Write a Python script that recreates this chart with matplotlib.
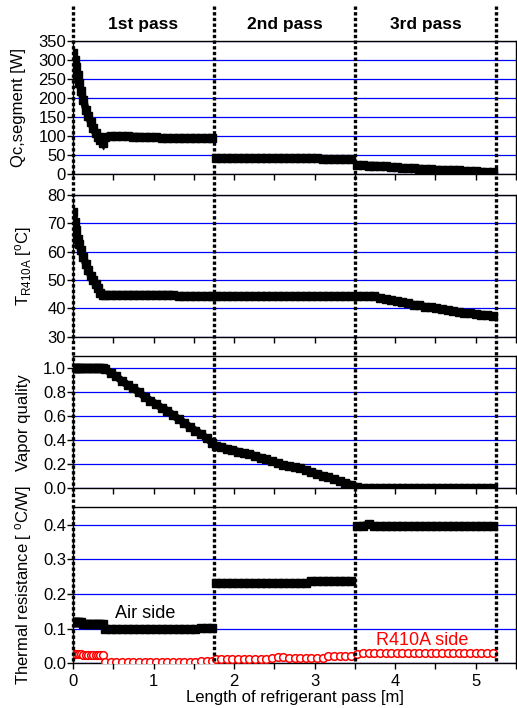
import matplotlib
matplotlib.use('Agg')
import matplotlib.pyplot as plt

plt.rcParams['font.family'] = ['Liberation Sans', 'DejaVu Sans']
plt.rcParams['mathtext.fontset'] = 'custom'
plt.rcParams['mathtext.rm'] = 'Liberation Sans'
plt.rcParams['mathtext.it'] = 'Liberation Sans:italic'
plt.rcParams['mathtext.bf'] = 'Liberation Sans:bold'

# ---------------- data ----------------
pass_names = ['1st pass', '2nd pass', '3rd pass']
pass_bounds = [0.0, 1.75, 3.5, 5.25]

x1 = [0.00, 0.02, 0.04, 0.06, 0.08, 0.10, 0.13, 0.16, 0.19, 0.22, 0.25, 0.28, 0.31, 0.34, 0.37,
      0.40, 0.47, 0.54, 0.61, 0.68, 0.75, 0.82, 0.89, 0.96, 1.03, 1.10, 1.17, 1.24, 1.31, 1.38,
      1.45, 1.52, 1.59, 1.66, 1.73]
x2 = [1.77, 1.84, 1.91, 1.98, 2.05, 2.12, 2.19, 2.26, 2.33, 2.40, 2.47, 2.54, 2.61, 2.68, 2.75,
      2.82, 2.89, 2.96, 3.03, 3.10, 3.17, 3.24, 3.31, 3.38, 3.45]
x3 = [3.53, 3.60, 3.67, 3.74, 3.81, 3.88, 3.95, 4.02, 4.09, 4.16, 4.23, 4.30, 4.37, 4.44, 4.51,
      4.58, 4.65, 4.72, 4.79, 4.86, 4.93, 5.00, 5.07, 5.14, 5.21]

# Qc, segment [W]
qc1 = [318, 300, 282, 262, 240, 220, 195, 170, 152, 137, 121, 108, 98, 90, 82,
       98, 101, 101, 100, 100, 99, 99, 98, 98, 97, 95, 95, 95, 94, 94,
       94, 94, 94, 94, 94]
qc2 = [43, 43, 42, 42, 42, 42, 42, 42, 42, 42, 42, 42, 42, 42, 42,
       42, 42, 42, 42, 41, 40, 40, 40, 40, 40]
qc3 = [24, 24, 23, 23, 22, 21, 19, 18, 17, 16, 16, 15, 14, 13, 12,
       12, 11, 10, 10, 9, 9, 8, 7, 6, 6]

# T R410A [C]
t1 = [74, 70.5, 67.5, 64.5, 62.5, 60.5, 58, 55.5, 53.5, 51.5, 50, 48.5, 47, 45.5, 44.8,
      44.8, 44.8, 44.8, 44.8, 44.8, 44.8, 44.8, 44.8, 44.8, 44.8, 44.8, 44.8, 44.8, 44.4, 44.4,
      44.4, 44.4, 44.4, 44.4, 44.4]
t2 = [44.4, 44.4, 44.4, 44.4, 44.4, 44.4, 44.4, 44.4, 44.4, 44.4, 44.4, 44.4, 44.4, 44.4, 44.4,
      44.4, 44.4, 44.4, 44.4, 44.4, 44.4, 44.4, 44.4, 44.4, 44.4]
t3 = [44.4, 44.4, 44.4, 44.3, 43.7, 43.2, 42.8, 42.5, 42.1, 41.7, 41.3, 41.0, 40.6, 40.3, 40.0,
      39.6, 39.3, 38.9, 38.6, 38.4, 38.2, 38.0, 37.8, 37.6, 37.4]

# Vapor quality
vq1 = [1.0, 1.0, 1.0, 1.0, 1.0, 1.0, 1.0, 1.0, 1.0, 1.0, 1.0, 1.0, 1.0, 1.0, 1.0,
       0.99, 0.96, 0.93, 0.89, 0.86, 0.83, 0.80, 0.76, 0.73, 0.70, 0.67, 0.645, 0.61, 0.575, 0.545,
       0.51, 0.48, 0.45, 0.415, 0.38]
vq2 = [0.355, 0.34, 0.33, 0.32, 0.305, 0.295, 0.285, 0.27, 0.255, 0.24, 0.225, 0.21, 0.195, 0.185, 0.175,
       0.165, 0.15, 0.135, 0.12, 0.105, 0.09, 0.075, 0.06, 0.045, 0.03]
vq3 = [0.01, 0.0, 0.0, 0.0, 0.0, 0.0, 0.0, 0.0, 0.0, 0.0, 0.0, 0.0, 0.0, 0.0, 0.0,
       0.0, 0.0, 0.0, 0.0, 0.0, 0.0, 0.0, 0.0, 0.0, 0.0]

# Thermal resistance, air side [C/W]
ra1 = [0.118, 0.118, 0.118, 0.118, 0.118, 0.118, 0.112, 0.112, 0.112, 0.112, 0.112, 0.112, 0.112, 0.112, 0.112,
       0.098, 0.098, 0.098, 0.098, 0.098, 0.098, 0.098, 0.098, 0.098, 0.098, 0.098, 0.098, 0.098, 0.098, 0.098,
       0.098, 0.098, 0.101, 0.101, 0.101]
ra2 = [0.231, 0.231, 0.231, 0.231, 0.231, 0.231, 0.231, 0.231, 0.231, 0.231, 0.231, 0.231, 0.231, 0.231, 0.231,
       0.231, 0.231, 0.238, 0.238, 0.238, 0.238, 0.238, 0.238, 0.238, 0.238]
ra3 = [0.395, 0.397, 0.401, 0.397, 0.395, 0.395, 0.395, 0.395, 0.395, 0.395, 0.395, 0.395, 0.395, 0.395, 0.395,
       0.395, 0.395, 0.395, 0.395, 0.395, 0.395, 0.395, 0.395, 0.395, 0.395]

# Thermal resistance, R410A side [C/W]
rr1 = [0.027, 0.027, 0.027, 0.027, 0.027, 0.027, 0.025, 0.025, 0.025, 0.025, 0.025, 0.025, 0.025, 0.025, 0.025,
       0.005, 0.005, 0.005, 0.005, 0.005, 0.005, 0.005, 0.005, 0.005, 0.005, 0.005, 0.005, 0.005, 0.005, 0.005,
       0.005, 0.005, 0.008, 0.008, 0.008]
rr2 = [0.012, 0.012, 0.012, 0.012, 0.012, 0.012, 0.012, 0.012, 0.012, 0.012, 0.015, 0.018, 0.018, 0.015, 0.015,
       0.015, 0.015, 0.015, 0.015, 0.015, 0.022, 0.022, 0.022, 0.022, 0.022]
rr3 = [0.027, 0.030, 0.030, 0.030, 0.030, 0.030, 0.030, 0.030, 0.030, 0.030, 0.030, 0.030, 0.030, 0.030, 0.030,
       0.030, 0.030, 0.030, 0.030, 0.030, 0.030, 0.030, 0.030, 0.030, 0.030]

ylabels = ['Qc,segment [W]', r'T$_{\mathrm{R410A}}$ [$^{\mathrm{o}}$C]', 'Vapor quality',
           r'Thermal resistance [ $^{\mathrm{o}}$C/W]']
yticks_list = [[0, 50, 100, 150, 200, 250, 300, 350],
               [30, 40, 50, 60, 70, 80],
               [0.0, 0.2, 0.4, 0.6, 0.8, 1.0],
               [0.0, 0.1, 0.2, 0.3, 0.4]]
ylims = [(0, 350), (30, 80), (0, 1.1), (0, 0.45)]
ytick_fmt = ['{:.0f}', '{:.0f}', '{:.1f}', '{:.1f}']
xticks = [0, 0.5, 1, 1.5, 2, 2.5, 3, 3.5, 4, 4.5, 5, 5.5]

# ---------------- figure ----------------
FW, FH = 517, 708
fig = plt.figure(figsize=(FW / 100, FH / 100), dpi=100)
L = 73 / FW
R = 516 / FW
W = R - L

def pos(top, bot):
    return [L, 1 - bot / FH, W, (bot - top) / FH]

panel_px = [(41, 174.3), (194.7, 336.7), (356, 488.3), (507.3, 663.3)]
axes = [fig.add_axes(pos(*p)) for p in panel_px]

series = [(qc1, qc2, qc3), (t1, t2, t3), (vq1, vq2, vq3), (ra1, ra2, ra3)]
label_x = [-0.107, -0.088, -0.095, -0.088]

for i, ax in enumerate(axes):
    for xs, ys in zip((x1, x2, x3), series[i]):
        ax.plot(xs, ys, color='k', lw=5.5, solid_capstyle='butt', solid_joinstyle='miter',
                marker='s', ms=5.5, mfc='k', mec='k', zorder=3)
    ax.set_xlim(0, 5.5)
    ax.set_ylim(*ylims[i])
    ax.set_yticks(yticks_list[i])
    ax.set_yticklabels([ytick_fmt[i].format(v) for v in yticks_list[i]])
    ax.set_xticks(xticks)
    if i == 3:
        ax.set_xticklabels([str(int(v)) if float(v).is_integer() else '' for v in xticks])
    else:
        ax.set_xticklabels([])
    ax.tick_params(axis='both', direction='out', length=4, width=1, labelsize=12, colors='k')
    ax.tick_params(axis='y', pad=1)
    ax.tick_params(axis='x', pad=3.5)
    ax.yaxis.grid(True, color='#0000ff', lw=0.9)
    ax.set_axisbelow(True)
    for s in ax.spines.values():
        s.set_linewidth(1)
        s.set_color('k')
    ax.set_ylabel(ylabels[i], fontsize=12)
    ax.yaxis.set_label_coords(label_x[i], 0.5)

ax4 = axes[3]
for xs, ys in zip((x1, x2, x3), (rr1, rr2, rr3)):
    ax4.plot(xs, ys, linestyle='none', marker='o', ms=5.5, mfc='white', mec='red', mew=1.1, zorder=4)
ax4.text(0.9, 0.145, 'Air side', fontsize=13, ha='center', va='center', color='k')
ax4.text(4.33, 0.067, 'R410A side', fontsize=13, ha='center', va='center', color='red')
ax4.set_xlabel('Length of refrigerant pass [m]', fontsize=12, labelpad=1)

# overlay for pass separators and pass titles (pixel layout coordinates)
ov = fig.add_axes([L, 1 - 663.3 / FH, W, 663.3 / FH])
ov.set_xlim(0, 5.5)
ov.set_ylim(663.3, 0)
ov.set_facecolor('none')
ov.axis('off')
ov.vlines(pass_bounds, 6, 663.3, colors='k', lw=2.4, linestyles=[(0, (1, 0.7))], clip_on=False, zorder=10)
for k, name in enumerate(pass_names):
    cx = 0.5 * (pass_bounds[k] + pass_bounds[k + 1])
    ov.text(cx, 25, name, ha='center', va='center', fontsize=12.5, fontweight='bold')

fig.savefig('out.png', dpi=100)
